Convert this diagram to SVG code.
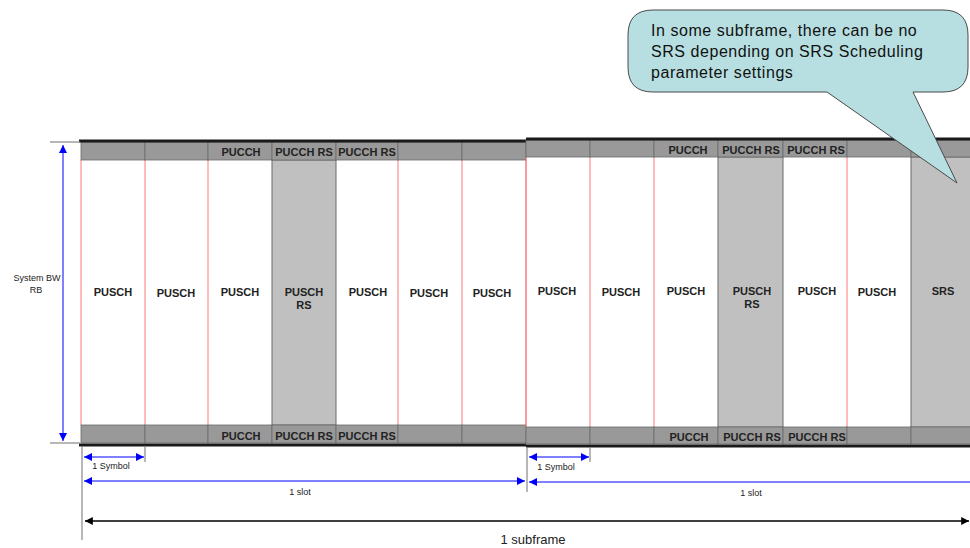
<svg xmlns="http://www.w3.org/2000/svg" width="970" height="548" viewBox="0 0 970 548">
<style>
.band{fill:#999999;stroke:#6a6a6a;stroke-width:0.8}
.rs{fill:#c0c0c0;stroke:#6a6a6a;stroke-width:1}
.red{stroke:#ff7878;stroke-width:1}
.thick{stroke:#1a1a1a;stroke-width:3}
.lbl{font-family:"Liberation Sans",Arial,sans-serif;font-weight:bold;font-size:11px;fill:#222;text-anchor:middle}
.blbl{font-family:"Liberation Sans",Arial,sans-serif;font-weight:bold;font-size:11px;fill:#222;text-anchor:middle}
.sm{font-family:"Liberation Sans",Arial,sans-serif;font-size:9px;fill:#222;text-anchor:middle}
.tick{stroke:#888;stroke-width:1.2}
.blue{stroke:#8080ff;stroke-width:2;fill:none}
</style>
<defs>
<marker id="bh" viewBox="0 0 10 10" refX="10" refY="5" markerWidth="4" markerHeight="4" orient="auto-start-reverse" markerUnits="strokeWidth"><path d="M0,0 L10,5 L0,10 Z" fill="#0000ff"/></marker>
<marker id="kh" viewBox="0 0 10 10" refX="10" refY="5" markerWidth="6" markerHeight="6" orient="auto-start-reverse" markerUnits="strokeWidth"><path d="M0,0 L10,5 L0,10 Z" fill="#000"/></marker>
</defs>
<rect width="970" height="548" fill="#fff"/>

<g id="slot1">
  <rect x="272" y="160" width="64" height="265" class="rs"/>
  <g class="red">
    <line x1="81" y1="160" x2="81" y2="425"/>
    <line x1="145" y1="160" x2="145" y2="425"/>
    <line x1="208" y1="160" x2="208" y2="425"/>
    <line x1="398" y1="160" x2="398" y2="425"/>
    <line x1="462" y1="160" x2="462" y2="425"/>
    <line x1="526" y1="160" x2="526" y2="425"/>
  </g>
  <rect x="81" y="142" width="64" height="18" class="band"/>
  <rect x="145" y="142" width="63" height="18" class="band"/>
  <rect x="208" y="142" width="64" height="18" class="band"/>
  <rect x="272" y="142" width="64" height="18" class="band" stroke="#444"/>
  <rect x="336" y="142" width="62" height="18" class="band"/>
  <rect x="398" y="142" width="64" height="18" class="band"/>
  <rect x="462" y="142" width="64" height="18" class="band"/>
  <rect x="81" y="425" width="64" height="18" class="band"/>
  <rect x="145" y="425" width="63" height="18" class="band"/>
  <rect x="208" y="425" width="64" height="18" class="band"/>
  <rect x="272" y="425" width="64" height="18" class="band"/>
  <rect x="336" y="425" width="62" height="18" class="band"/>
  <rect x="398" y="425" width="64" height="18" class="band"/>
  <rect x="462" y="425" width="64" height="18" class="band"/>
  <line x1="79" y1="141" x2="526" y2="141" class="thick"/>
  <line x1="79" y1="445" x2="526" y2="445" class="thick"/>
  <text x="241" y="156" class="lbl">PUCCH</text>
  <text x="304" y="156" class="lbl" font-size="11.5">PUCCH RS</text>
  <text x="367" y="156" class="lbl" font-size="11.5">PUCCH RS</text>
  <text x="241" y="440" class="lbl">PUCCH</text>
  <text x="304" y="440" class="lbl" font-size="11.5">PUCCH RS</text>
  <text x="367" y="440" class="lbl" font-size="11.5">PUCCH RS</text>
  <text x="113" y="296" class="blbl">PUSCH</text>
  <text x="176" y="297" class="blbl">PUSCH</text>
  <text x="240" y="296" class="blbl">PUSCH</text>
  <text x="304" y="296" class="blbl">PUSCH</text>
  <text x="304" y="309" class="blbl">RS</text>
  <text x="368" y="296" class="blbl">PUSCH</text>
  <text x="429" y="297" class="blbl">PUSCH</text>
  <text x="492" y="297" class="blbl">PUSCH</text>
</g>

<g id="slot2">
  <rect x="718" y="157" width="65" height="270" class="rs"/>
  <rect x="911" y="157" width="62" height="270" class="rs"/>
  <g class="red">
    <line x1="526" y1="157" x2="526" y2="427"/>
    <line x1="590" y1="157" x2="590" y2="427"/>
    <line x1="654" y1="157" x2="654" y2="427"/>
    <line x1="847" y1="157" x2="847" y2="427"/>
  </g>
  <rect x="526" y="140" width="64" height="17" class="band"/>
  <rect x="590" y="140" width="64" height="17" class="band"/>
  <rect x="654" y="140" width="64" height="17" class="band"/>
  <rect x="718" y="140" width="65" height="17" class="band" stroke="#444"/>
  <rect x="783" y="140" width="64" height="17" class="band" stroke="#444"/>
  <rect x="847" y="140" width="64" height="17" class="band"/>
  <rect x="911" y="140" width="62" height="17" class="band"/>
  <rect x="526" y="427" width="64" height="17" class="band"/>
  <rect x="590" y="427" width="64" height="17" class="band"/>
  <rect x="654" y="427" width="64" height="17" class="band"/>
  <rect x="718" y="427" width="65" height="17" class="band"/>
  <rect x="783" y="427" width="64" height="17" class="band"/>
  <rect x="847" y="427" width="64" height="17" class="band"/>
  <rect x="911" y="427" width="62" height="17" class="band"/>
  <line x1="526" y1="139" x2="970" y2="139" class="thick"/>
  <line x1="526" y1="446" x2="970" y2="446" class="thick"/>
  <text x="688" y="154" class="lbl">PUCCH</text>
  <text x="751" y="154" class="lbl" font-size="11.5">PUCCH RS</text>
  <text x="816" y="154" class="lbl" font-size="11.5">PUCCH RS</text>
  <text x="689" y="441" class="lbl">PUCCH</text>
  <text x="752" y="441" class="lbl" font-size="11.5">PUCCH RS</text>
  <text x="817" y="441" class="lbl" font-size="11.5">PUCCH RS</text>
  <text x="557" y="295" class="blbl">PUSCH</text>
  <text x="621" y="296" class="blbl">PUSCH</text>
  <text x="686" y="295" class="blbl">PUSCH</text>
  <text x="752" y="295" class="blbl">PUSCH</text>
  <text x="752" y="308" class="blbl">RS</text>
  <text x="817" y="295" class="blbl">PUSCH</text>
  <text x="877" y="296" class="blbl">PUSCH</text>
  <text x="943" y="295" class="blbl">SRS</text>
</g>

<g id="connectors">
  <line x1="50" y1="142" x2="80" y2="142" class="tick"/>
  <line x1="50" y1="443" x2="80" y2="443" class="tick"/>
  <line x1="63" y1="145" x2="63" y2="441" class="blue" marker-start="url(#bh)" marker-end="url(#bh)"/>
  <line x1="82" y1="446" x2="82" y2="540" class="tick"/>
  <line x1="145" y1="446" x2="145" y2="462" class="tick"/>
  <line x1="527" y1="447" x2="527" y2="492" class="tick"/>
  <line x1="590" y1="447" x2="590" y2="462" class="tick"/>
  <line x1="84" y1="457" x2="144" y2="457" class="blue" marker-start="url(#bh)" marker-end="url(#bh)"/>
  <line x1="529" y1="457" x2="589" y2="457" class="blue" marker-start="url(#bh)" marker-end="url(#bh)"/>
  <line x1="84" y1="481" x2="525" y2="481" class="blue" marker-start="url(#bh)" marker-end="url(#bh)"/>
  <line x1="529" y1="482" x2="975" y2="482" class="blue" marker-start="url(#bh)"/>
  <line x1="85" y1="521" x2="969" y2="521" stroke="#000" stroke-width="1.3" marker-start="url(#kh)" marker-end="url(#kh)"/>
</g>

<g id="labels">
  <text x="37" y="281" class="sm" font-size="9">System BW</text>
  <text x="36" y="293" class="sm" font-size="9">RB</text>
  <text x="111" y="469" class="sm">1 Symbol</text>
  <text x="556" y="470" class="sm">1 Symbol</text>
  <text x="300" y="495" class="sm" font-size="9.5">1 slot</text>
  <text x="751" y="496" class="sm" font-size="9.5">1 slot</text>
  <text x="533" y="544" font-family="Liberation Sans, Arial, sans-serif" font-size="13" fill="#222" text-anchor="middle">1 subframe</text>
</g>

<g id="callout">
  <path d="M653,10 H943 Q968,10 968,35 V67 Q968,92 943,92 H913 L957,183 L827,92 H653 Q628,92 628,67 V35 Q628,10 653,10 Z" fill="#b7dfe1" stroke="#4a4a4a" stroke-width="1"/>
  <g font-family="Liberation Sans, Arial, sans-serif" font-size="16" letter-spacing="0.55" fill="#111">
    <text x="651" y="36">In some subframe, there can be no</text>
    <text x="651" y="57">SRS depending on SRS Scheduling</text>
    <text x="651" y="78">parameter settings</text>
  </g>
</g>
</svg>
